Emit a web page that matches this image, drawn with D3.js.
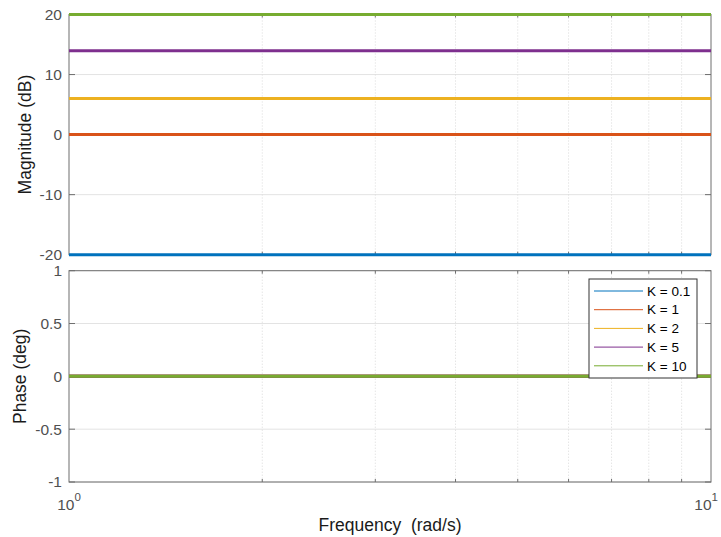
<!DOCTYPE html>
<html>
<head>
<meta charset="utf-8">
<script src="https://cdn.jsdelivr.net/npm/d3@7"></script>
<style>
  html, body { margin: 0; padding: 0; background: #fff; }
  svg { display: block; }
  text { font-family: "Liberation Sans", Arial, Helvetica, sans-serif; }
</style>
</head>
<body>
<svg id="chart" width="721" height="537"></svg>
<script>
// Bode response of a pure gain K for several K values
const gainLabels = ["K = 0.1", "K = 1", "K = 2", "K = 5", "K = 10"];
const magnitudeDb = [-20, 0, 6.02, 13.98, 20];
const phaseDeg = [0, 0, 0, 0, 0];
const freqRange = [1, 10];
const magTicks = [-20, -10, 0, 10, 20];
const phaseTicks = [-1, -0.5, 0, 0.5, 1];
const phaseTickLabels = ["-1", "-0.5", "0", "0.5", "1"];
const minorFreqs = [2, 3, 4, 5, 6, 7, 8, 9];
const colors = ["#0072BD", "#D95319", "#EDB120", "#7E2F8E", "#77AC30"];

const W = 721;
const svg = d3.select("#chart");
const left = 69, right = 711;
const axisColor = "#6e6e6e", textColor = "#505050", gridColor = "#e3e3e3";
const tickFont = 15.5, titleFont = 17.5;

const x = d3.scaleLog().domain(freqRange).range([left, right]);
const yMag = d3.scaleLinear().domain([-20, 20]).range([254.7, 14.5]);
const yPh = d3.scaleLinear().domain([-1, 1]).range([482, 270.7]);

function panel(y, ticks, tickLabels, series) {
  const [y0, y1] = y.range();
  const g = svg.append("g");
  // grid: horizontal at major y ticks, dotted vertical at minor frequencies
  g.selectAll(".hg").data(ticks).join("line")
    .attr("x1", left).attr("x2", right)
    .attr("y1", d => y(d)).attr("y2", d => y(d))
    .attr("stroke", gridColor).attr("stroke-width", 1);
  g.selectAll(".vg").data(minorFreqs).join("line")
    .attr("x1", d => x(d)).attr("x2", d => x(d))
    .attr("y1", y1).attr("y2", y0)
    .attr("stroke", "#d9d9d9").attr("stroke-width", 1)
    .attr("stroke-dasharray", "1,2");

  // box
  g.append("rect").attr("x", left).attr("y", y1)
    .attr("width", right - left).attr("height", y0 - y1)
    .attr("fill", "none").attr("stroke", axisColor).attr("stroke-width", 1);

  // ticks on all four sides
  g.selectAll(".tl").data(ticks).join("line")
    .attr("x1", left).attr("x2", left + 6)
    .attr("y1", d => y(d)).attr("y2", d => y(d))
    .attr("stroke", axisColor);
  g.selectAll(".tr").data(ticks).join("line")
    .attr("x1", right - 6).attr("x2", right)
    .attr("y1", d => y(d)).attr("y2", d => y(d))
    .attr("stroke", axisColor);
  g.selectAll(".tt").data(minorFreqs).join("line")
    .attr("x1", d => x(d)).attr("x2", d => x(d))
    .attr("y1", y1).attr("y2", y1 + 3)
    .attr("stroke", axisColor);
  g.selectAll(".tb").data(minorFreqs).join("line")
    .attr("x1", d => x(d)).attr("x2", d => x(d))
    .attr("y1", y0).attr("y2", y0 - 3)
    .attr("stroke", axisColor);

  // y tick labels
  g.selectAll(".yl").data(ticks).join("text")
    .attr("x", left - 7).attr("y", d => y(d))
    .attr("dy", "0.35em").attr("text-anchor", "end")
    .attr("font-size", tickFont).attr("fill", textColor)
    .text((d, i) => tickLabels[i]);

  // series
  series.forEach((v, i) => {
    g.append("line")
      .attr("x1", x(freqRange[0])).attr("x2", x(freqRange[1]))
      .attr("y1", y(v)).attr("y2", y(v))
      .attr("stroke", colors[i]).attr("stroke-width", 3);
  });
  return g;
}

panel(yMag, magTicks, magTicks.map(String), magnitudeDb);
panel(yPh, phaseTicks, phaseTickLabels, phaseDeg);

// x tick labels (decades), kept inside the page edge
freqRange.forEach(f => {
  const t = svg.append("text")
    .attr("x", x(f)).attr("y", 510)
    .attr("text-anchor", "middle")
    .attr("font-size", tickFont).attr("fill", textColor);
  t.append("tspan").text("10");
  t.append("tspan").attr("dy", -9).attr("font-size", 11.5)
    .text(String(Math.round(Math.log10(f))));
  const bb = t.node().getBBox();
  const overflow = bb.x + bb.width - (W - 3);
  if (overflow > 0) t.attr("x", x(f) - overflow);
});

// axis titles
svg.append("text")
  .attr("transform", `translate(31,${(yMag(20) + yMag(-20)) / 2}) rotate(-90)`)
  .attr("text-anchor", "middle").attr("font-size", titleFont).attr("fill", "#1a1a1a")
  .text("Magnitude (dB)");
svg.append("text")
  .attr("transform", `translate(26,${(yPh(1) + yPh(-1)) / 2}) rotate(-90)`)
  .attr("text-anchor", "middle").attr("font-size", titleFont).attr("fill", "#1a1a1a")
  .text("Phase (deg)");
svg.append("text")
  .attr("x", (left + right) / 2).attr("y", 531)
  .attr("text-anchor", "middle").attr("font-size", titleFont).attr("fill", "#1a1a1a")
  .attr("xml:space", "preserve")
  .text("Frequency  (rad/s)");

// legend
const lg = svg.append("g").attr("transform", "translate(589,279)");
lg.append("rect").attr("width", 108).attr("height", 99)
  .attr("fill", "#fff").attr("stroke", "#333").attr("stroke-width", 1);
gainLabels.forEach((lab, i) => {
  const yy = 12 + i * 18.7;
  lg.append("line").attr("x1", 5).attr("x2", 54)
    .attr("y1", yy).attr("y2", yy)
    .attr("stroke", colors[i]).attr("stroke-width", 1);
  lg.append("text").attr("x", 58).attr("y", yy).attr("dy", "0.35em")
    .attr("font-size", 13.5).attr("fill", "#000").text(lab);
});
</script>
</body>
</html>
